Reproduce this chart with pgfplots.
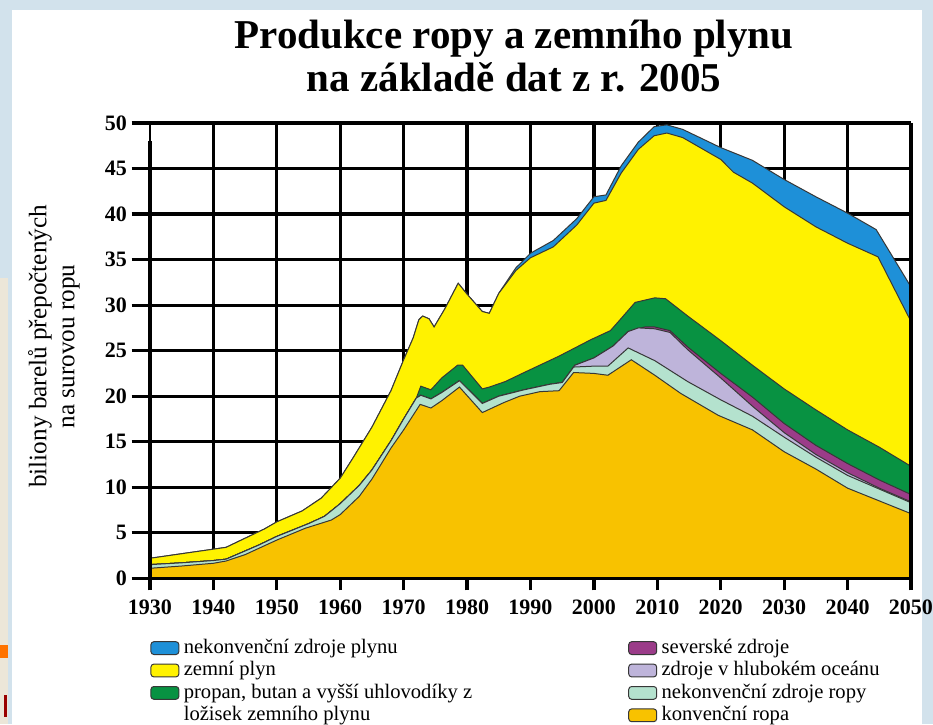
\documentclass[border=0pt]{standalone}
\usepackage{fontspec}
\setmainfont{Liberation Serif}
\usepackage{pgfplots}
\pgfplotsset{compat=1.18}

\definecolor{cblue}{RGB}{30,144,216}
\definecolor{cyellow}{RGB}{255,242,0}
\definecolor{cgreen}{RGB}{8,146,66}
\definecolor{cpurple}{RGB}{155,60,137}
\definecolor{clav}{RGB}{190,180,218}
\definecolor{clg}{RGB}{180,226,206}
\definecolor{corange}{RGB}{248,194,0}
\definecolor{edge}{RGB}{55,55,55}
\definecolor{bgblue}{RGB}{210,226,236}
\definecolor{bgbeige}{RGB}{236,230,216}

\tikzset{gridl/.style={black, line width=1.6pt}}
\pgfplotsset{
  layer/.style={draw=edge, line width=0.5pt, forget plot},
  lbox/.style={legend image code/.code={%
      \draw[##1, line width=0.5pt, rounded corners=1.5pt] (0pt,-3.2pt) rectangle (14pt,3.2pt);}},
}

\begin{document}
\begin{tikzpicture}
% slide background
\fill[bgblue] (-75pt,-72.85pt) rectangle (391.5pt,289.15pt);
\fill[white] (-69pt,-72.85pt) rectangle (386pt,284.15pt);
\fill[bgbeige] (-75pt,-72.85pt) rectangle (-71pt,150pt);
\fill[orange!90!red] (-75pt,-33.4pt) rectangle (-71pt,-39.9pt);
\fill[red!60!black] (-73pt,-58.4pt) rectangle (-71.5pt,-69.4pt);

\begin{axis}[
  width=380.5pt, height=227.65pt, scale only axis,
  xmin=1930, xmax=2050, ymin=0, ymax=50,
  clip=false,
  axis line style={draw=none},
  major tick length=0pt,
  xtick={1930,1940,...,2050},
  ytick={0,5,...,50},
  /pgf/number format/1000 sep={},
  /pgf/number format/assume math mode=true,
  ticklabel style={font=\fontsize{11}{13}\selectfont\bfseries},
  xticklabel style={yshift=-7pt},
  yticklabel style={xshift=-8pt},
  legend columns=2,
  legend cell align=left,
  legend style={at={(rel axis cs:0,0)}, anchor=north west, yshift=-29.5pt,
    draw=none, fill=none, inner sep=0pt, row sep=0.8pt,
    font=\fontsize{10.3}{11}\selectfont,
    nodes={inner xsep=2.2pt, inner ysep=0pt, text height=7.8pt, text depth=2.6pt}},
]
% grid behind the areas
\pgfplotsinvokeforeach{5,10,...,50}{\draw[gridl] ([xshift=-9.2pt]axis cs:1930,#1) -- (axis cs:2050,#1);}
\pgfplotsinvokeforeach{1940,1950,...,2040}{\draw[gridl] ([yshift=-6pt]axis cs:#1,0) -- (axis cs:#1,50);}

% nekonvencni zdroje plynu (top of stack)
\addplot[layer, fill=cblue] coordinates {
(1930,2.2) (1935,2.7) (1940,3.2) (1942,3.4) (1945,4.4) (1948,5.4) (1950,6.2)
(1954,7.4) (1957,8.8) (1960,11.0) (1962,13.2) (1965,16.6) (1968,20.6) (1970,24.0)
(1971.5,26.4) (1972.4,28.4) (1973,28.8) (1974,28.5) (1974.8,27.6) (1976.5,29.6)
(1978.6,32.4) (1980,31.2) (1982.4,29.3) (1983.5,29.1) (1985,31.3) (1987.7,34.1)
(1990,35.7) (1993.6,37.1) (1997.3,39.5) (2000,41.9) (2001.9,42.1) (2004.3,45.3)
(2007,47.9) (2009.5,49.6) (2011.5,49.8) (2014,49.3) (2020,47.3) (2025,45.9)
(2030,43.8) (2035,41.9) (2040,40.1) (2044.5,38.3) (2050,32.0)
} \closedcycle;
% zemni plyn
\addplot[layer, fill=cyellow] coordinates {
(1930,2.2) (1935,2.7) (1940,3.2) (1942,3.4) (1945,4.4) (1948,5.4) (1950,6.2)
(1954,7.4) (1957,8.8) (1960,11.0) (1962,13.2) (1965,16.6) (1968,20.6) (1970,24.0)
(1971.5,26.4) (1972.4,28.4) (1973,28.8) (1974,28.5) (1974.8,27.6) (1976.5,29.6)
(1978.6,32.4) (1980,31.2) (1982.4,29.3) (1983.5,29.1) (1985,31.3) (1987.7,33.8)
(1990,35.2) (1993.6,36.4) (1997.3,38.8) (2000,41.2) (2001.9,41.5) (2004.3,44.5)
(2007,47.1) (2009.5,48.6) (2011.5,48.9) (2014,48.4) (2020,46.0) (2022,44.6)
(2025,43.4) (2030,40.8) (2035,38.6) (2040,36.8) (2044.8,35.3) (2050,28.2)
} \closedcycle;
% propan, butan a vyssi uhlovodiky
\addplot[layer, fill=cgreen] coordinates {
(1930,1.5) (1935,1.7) (1940,1.95) (1942,2.1) (1944,2.7) (1947,3.6) (1950,4.6)
(1955,6.0) (1957.5,6.8) (1960,8.2) (1963,10.2) (1965,11.9) (1968,15.1) (1970,17.5)
(1972,19.8) (1972.7,21.1) (1974.3,20.7) (1976,22.0) (1978.5,23.4) (1979.3,23.4)
(1982.4,20.8) (1983.5,21.0) (1986,21.6) (1989,22.6) (1994.5,24.4) (1999.5,26.2)
(2002.6,27.2) (2004,28.3) (2006.5,30.3) (2009.6,30.8) (2011.3,30.7) (2014.8,28.8)
(2020,26.1) (2025,23.4) (2030,20.8) (2035,18.5) (2040,16.3) (2045,14.4) (2050,12.3)
} \closedcycle;
% severske zdroje
\addplot[layer, fill=cpurple] coordinates {
(1930,1.5) (1935,1.7) (1940,1.95) (1942,2.1) (1944,2.7) (1947,3.6) (1950,4.6)
(1955,6.0) (1957.5,6.8) (1960,8.2) (1963,10.2) (1965,11.9) (1968,15.1) (1970,17.5)
(1972,19.8) (1972.7,20.1) (1974.3,19.7) (1976,20.4) (1978.8,21.7) (1982.4,19.2)
(1985,20.0) (1989,20.7) (1993,21.3) (1995,21.5) (1997,23.4) (2000,24.2) (2003,25.5)
(2005.4,27.1) (2008,27.6) (2009.6,27.6) (2012,27.2) (2014.8,25.4) (2020,22.5)
(2025,19.9) (2030,17.0) (2035,14.6) (2040,12.6) (2045,10.8) (2050,9.2)
} \closedcycle;
% zdroje v hlubokem oceanu
\addplot[layer, fill=clav] coordinates {
(1930,1.5) (1935,1.7) (1940,1.95) (1942,2.1) (1944,2.7) (1947,3.6) (1950,4.6)
(1955,6.0) (1957.5,6.8) (1960,8.2) (1963,10.2) (1965,11.9) (1968,15.1) (1970,17.5)
(1972,19.8) (1972.7,20.1) (1974.3,19.7) (1976,20.4) (1978.8,21.7) (1982.4,19.2)
(1985,20.0) (1989,20.7) (1993,21.3) (1995,21.5) (1997,23.4) (2000,24.2) (2003,25.5)
(2005.4,27.1) (2007,27.5) (2009.6,27.4) (2012,27.0) (2014.8,25.1) (2020,22.0)
(2025,18.9) (2030,16.0) (2035,13.6) (2040,11.6) (2045,9.9) (2050,8.4)
} \closedcycle;
% nekonvencni zdroje ropy
\addplot[layer, fill=clg] coordinates {
(1930,1.5) (1935,1.7) (1940,1.95) (1942,2.1) (1944,2.7) (1947,3.6) (1950,4.6)
(1955,6.0) (1957.5,6.8) (1960,8.2) (1963,10.2) (1965,11.9) (1968,15.1) (1970,17.5)
(1972,19.8) (1972.7,20.1) (1974.3,19.7) (1976,20.4) (1978.8,21.7) (1982.4,19.2)
(1985,20.0) (1989,20.7) (1993,21.3) (1995,21.5) (1996.8,23.2) (2000,23.3)
(2002.2,23.3) (2005.4,25.3) (2009.6,23.9) (2014.8,21.6) (2020,19.6) (2025,17.8)
(2030,15.5) (2035,13.3) (2040,11.3) (2045,9.8) (2050,8.3)
} \closedcycle;
% konvencni ropa
\addplot[layer, fill=corange] coordinates {
(1930,1.1) (1935,1.35) (1940,1.65) (1942,1.9) (1945,2.6) (1950,4.2) (1954.5,5.5)
(1958.6,6.4) (1960,7.0) (1963,9.0) (1965,10.9) (1968,14.3) (1970,16.3) (1972.6,19.1)
(1974.3,18.7) (1976,19.5) (1978.8,21.0) (1982.4,18.2) (1985.8,19.3) (1988.3,20.0)
(1991.5,20.5) (1994.5,20.6) (1996.8,22.6) (2000,22.5) (2002.2,22.3) (2005.9,24.0)
(2009.6,22.3) (2013.7,20.3) (2019.6,17.9) (2025,16.3) (2030,13.9) (2035,12.0)
(2040,9.9) (2045,8.5) (2050,7.1)
} \closedcycle;

% frame lines on top of the areas
\draw[gridl] ([xshift=-9.2pt]axis cs:1930,0) -- (axis cs:2050,0);
\draw[gridl] ([yshift=-6pt]axis cs:1930,0) -- (axis cs:1930,48);
\draw[black, line width=0.6pt] (axis cs:1930,48) -- (axis cs:1930,50);
\draw[gridl] ([yshift=-6pt]axis cs:2050,0) -- (axis cs:2050,50);

% legend
\addlegendimage{lbox, fill=cblue, draw=edge}
\addlegendentry{\makebox[220pt][l]{nekonvenční zdroje plynu}}
\addlegendimage{lbox, fill=cpurple, draw=edge}
\addlegendentry{severské zdroje}
\addlegendimage{lbox, fill=cyellow, draw=edge}
\addlegendentry{zemní plyn}
\addlegendimage{lbox, fill=clav, draw=edge}
\addlegendentry{zdroje v hlubokém oceánu}
\addlegendimage{lbox, fill=cgreen, draw=edge}
\addlegendentry{propan, butan a vyšší uhlovodíky z}
\addlegendimage{lbox, fill=clg, draw=edge}
\addlegendentry{nekonvenční zdroje ropy}
\addlegendimage{empty legend}
\addlegendentry{ložisek zemního plynu}
\addlegendimage{lbox, fill=corange, draw=edge}
\addlegendentry{konvenční ropa}
\end{axis}

\node[font=\fontsize{20.5}{21.5}\selectfont\bfseries, align=center, inner sep=0pt]
  at (182pt,260.9pt) {Produkce ropy a zemního plynu\\na základě dat z r. 2005};
\node[rotate=90, font=\fontsize{12.6}{14}\selectfont, align=center, inner sep=0pt]
  at (-48pt,116pt) {biliony barelů přepočtených\\na surovou ropu};

\pgfresetboundingbox
\useasboundingbox (-75pt,-72.85pt) rectangle (391.5pt,289.15pt);
\end{tikzpicture}
\end{document}
